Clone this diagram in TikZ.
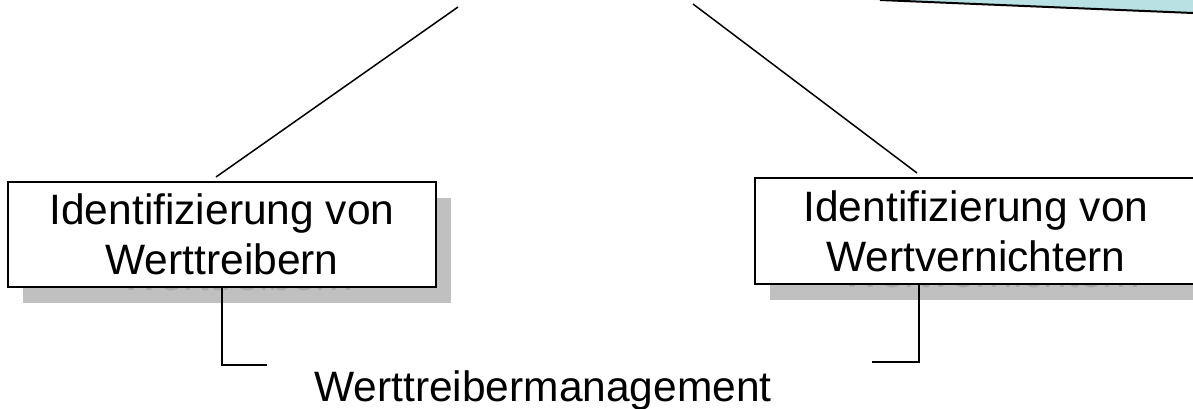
\documentclass[tikz,border=0pt]{standalone}
\usepackage{fontspec}
\setmainfont{Liberation Sans}
\definecolor{shadowgray}{HTML}{C0C0C0}
\definecolor{ghostgray}{HTML}{A8A8A8}
\definecolor{calloutcyan}{HTML}{B9E0E3}
\begin{document}
\begin{tikzpicture}[x=1pt,y=-1pt,
  bigtext/.style={font=\fontsize{42.5}{50}\selectfont},
  boxbase/.style={bigtext, align=center, inner sep=0pt, minimum width=428pt, minimum height=105pt},
  valuebox/.style={boxbase, draw=black, line width=2pt, fill=white},
  boxshadow/.style={boxbase, fill=shadowgray, text=ghostgray},
  link/.style={line width=1.5pt, black}]
\useasboundingbox (0,0) rectangle (1193,408);
\clip (0,0) rectangle (1193,408);

% callout corner at the top right
\fill[calloutcyan] (873,0) -- (1193,0) -- (1193,13) -- cycle;
\draw[line width=2pt] (880,0) -- (1193,13);

% drop shadows of the two boxes
\node[boxshadow] (leftshadow) at (237,250.5) {Identifizierung von\\Werttreibern};
\node[boxshadow, minimum width=442pt, minimum height=106pt] (rightshadow) at (991,247) {Identifizierung von\\Wertvernichtern};

% the two boxes
\node[valuebox] (left) at (222,234.5) {Identifizierung von\\Werttreibern};
\node[valuebox, minimum width=442pt, minimum height=106pt] (right) at (976,231) {Identifizierung von\\Wertvernichtern};

% lines coming down from above
\coordinate (lefttop) at (458,7);
\coordinate (leftend) at (216,177);
\coordinate (righttop) at (693,4);
\coordinate (rightend) at (917,173);
\draw[link] (lefttop) -- (leftend);
\draw[link] (righttop) -- (rightend);

% brackets below the boxes
\coordinate (leftfoot) at (267,365);
\draw[link] (left.south) |- (leftfoot);
\coordinate (rightcorner) at (919,362);
\coordinate (rightfoot) at (872,362);
\draw[link] (right.south -| rightcorner) -- (rightcorner) -- (rightfoot);

% caption
\node[bigtext, anchor=base, inner sep=0pt] (mgmt) at (543,401) {Werttreibermanagement};
\end{tikzpicture}
\end{document}
